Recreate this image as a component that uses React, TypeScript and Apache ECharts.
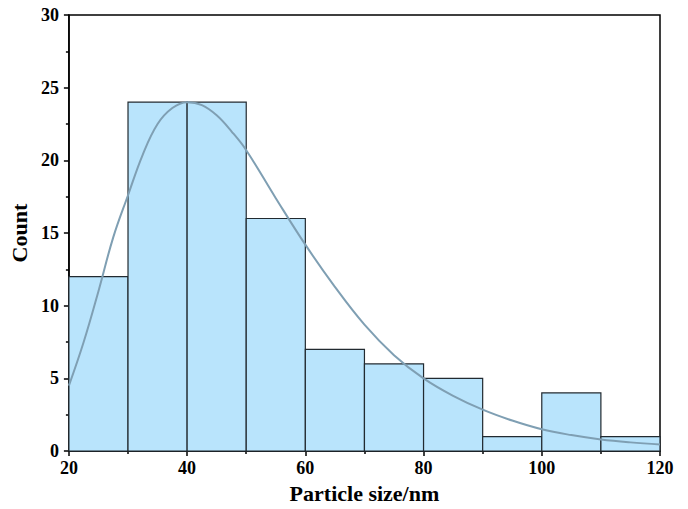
import React, { useEffect, useRef } from "react";
import * as echarts from "echarts";

const binStarts = [20, 30, 40, 50, 60, 70, 80, 90, 100, 110];
const binWidth = 10;
const counts = [12, 24, 24, 16, 7, 6, 5, 1, 4, 1];

const curveX = [20, 22.5, 25, 27.5, 30, 32.5, 35, 37.5, 40, 42.5, 45, 47.5, 50, 55, 60, 65, 70, 75, 80, 85, 90, 95, 100, 105, 110, 115, 120];
const curveY = [4.5, 7.5, 11.0, 14.7, 17.6, 20.4, 22.5, 23.6, 24.0, 23.8, 23.1, 22.0, 20.7, 17.4, 14.2, 11.3, 8.7, 6.6, 5.0, 3.8, 2.85, 2.1, 1.5, 1.1, 0.8, 0.6, 0.46];

const FONT = "'Liberation Serif', 'Times New Roman', serif";

export default function App() {
  const ref = useRef<HTMLDivElement>(null);
  useEffect(() => {
    if (!ref.current) return;
    const chart = echarts.init(ref.current, null, { renderer: "svg" });
    const barData = binStarts.map((s, i) => [s, s + binWidth, counts[i]]);
    chart.setOption({
      animation: false,
      backgroundColor: "#ffffff",
      grid: {
        left: 68,
        right: 28,
        top: 15,
        bottom: 54,
        show: true,
        borderColor: "#000",
        borderWidth: 1.5,
        backgroundColor: "transparent",
      },
      xAxis: {
        type: "value",
        min: 20,
        max: 120,
        interval: 20,
        name: "Particle size/nm",
        nameLocation: "middle",
        nameGap: 29,
        nameTextStyle: { fontFamily: FONT, fontWeight: "bold", fontSize: 22, color: "#000" },
        axisLine: { show: true, onZero: false, lineStyle: { color: "#000", width: 1.5 } },
        axisTick: { show: true, inside: false, length: 5, lineStyle: { color: "#000", width: 1.5 } },
        minorTick: { show: true, splitNumber: 2, length: 3, lineStyle: { color: "#000", width: 1.5 } },
        axisLabel: { fontFamily: FONT, fontWeight: "bold", fontSize: 18, color: "#000", margin: 8 },
        splitLine: { show: false },
      },
      yAxis: {
        type: "value",
        min: 0,
        max: 30,
        interval: 5,
        name: "Count",
        nameLocation: "middle",
        nameGap: 31,
        nameTextStyle: { fontFamily: FONT, fontWeight: "bold", fontSize: 22, color: "#000" },
        axisLine: { show: true, lineStyle: { color: "#000", width: 1.5 } },
        axisTick: { show: true, inside: false, length: 5, lineStyle: { color: "#000", width: 1.5 } },
        minorTick: { show: true, splitNumber: 2, length: 3, lineStyle: { color: "#000", width: 1.5 } },
        axisLabel: { fontFamily: FONT, fontWeight: "bold", fontSize: 18, color: "#000", margin: 10 },
        splitLine: { show: false },
      },
      series: [
        {
          type: "custom",
          data: barData,
          encode: { x: [0, 1], y: 2 },
          renderItem: (params: any, api: any) => {
            const start = api.value(0);
            const end = api.value(1);
            const v = api.value(2);
            const p0 = api.coord([start, v]);
            const p1 = api.coord([end, 0]);
            return {
              type: "rect",
              shape: { x: p0[0], y: p0[1], width: p1[0] - p0[0], height: p1[1] - p0[1] },
              style: { fill: "#b9e4fc", stroke: "#222a30", lineWidth: 1.2 },
            };
          },
          z: 2,
        },
        {
          type: "line",
          data: curveX.map((x, i) => [x, curveY[i]]),
          smooth: 0.4,
          showSymbol: false,
          lineStyle: { color: "#7f9fb3", width: 2 },
          z: 3,
        },
      ],
    });
    return () => chart.dispose();
  }, []);
  return <div ref={ref} style={{ width: 688, height: 509, margin: -8 }} />;
}
